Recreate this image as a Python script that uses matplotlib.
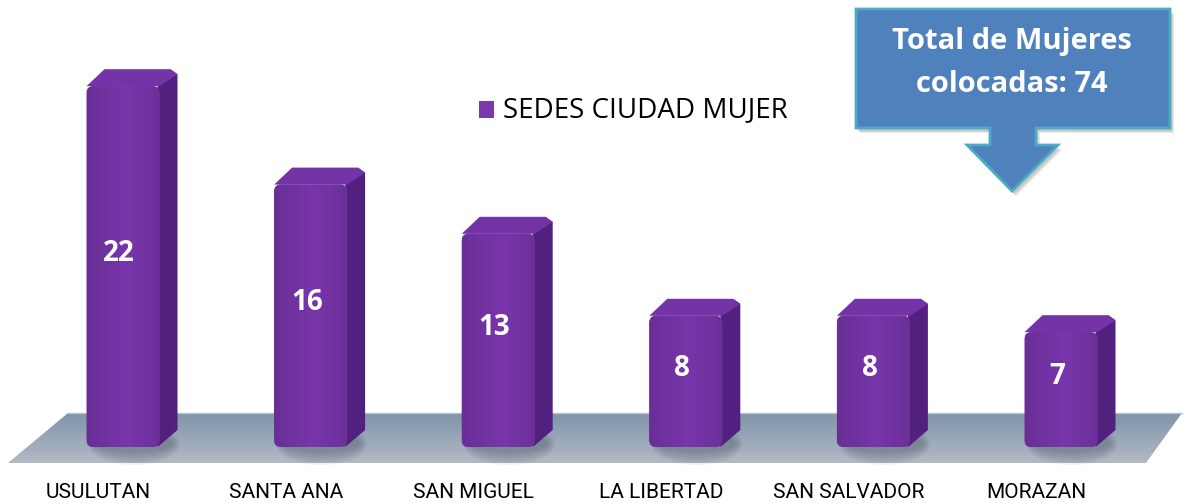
import numpy as np
import matplotlib
matplotlib.use("Agg")
import matplotlib.pyplot as plt
from matplotlib.patches import Polygon, Rectangle, Ellipse, FancyBboxPatch
from matplotlib.transforms import Affine2D

# data
sedes = ["USULUTAN", "SANTA ANA", "SAN MIGUEL", "LA LIBERTAD", "SAN SALVADOR", "MORAZAN"]
colocadas = [22, 16, 13, 8, 8, 7]
serie = "SEDES CIUDAD MUJER"
total_txt = "Total de Mujeres\ncolocadas: 74"

W, H = 1186, 504
fig = plt.figure(figsize=(W / 100, H / 100), dpi=100)
ax = fig.add_axes([0, 0, 1, 1])
ax.set_axis_off()

# axis scales so that bars land where the picture has them
x0, step = 123.0, 187.6     # px of first bar centre, px between bars
base, unit = 447.0, 16.4    # px of value 0 (from top), px per unit
xlim = (-x0 / step, (W - x0) / step)
ylim = (-(H - base) / unit, base / unit)

# pixel transform (origin top left) for decorations
px = Affine2D().scale(1 / W, -1 / H).translate(0, 1) + fig.transFigure

# floor with vertical gradient
floor = Polygon([(68, 413), (1182, 413), (1146, 463), (8, 463)], closed=True,
                facecolor="none", edgecolor="none", transform=px, zorder=0)
ax.add_patch(floor)
grad = np.linspace(0, 1, 64)[:, None]
c_top = np.array([0.50, 0.58, 0.67])
c_bot = np.array([0.70, 0.73, 0.77])
img = c_top[None, None, :] * (1 - grad[..., None]) + c_bot[None, None, :] * grad[..., None]
img = np.repeat(img, 2, axis=1)
im = ax.imshow(img, extent=(0, W, 463, 413), transform=px, aspect="auto",
               interpolation="bilinear", zorder=0)
im.set_clip_path(floor)
ax.plot([68, 1182], [413, 413], color="#b9c3cf", lw=1.0, transform=px, zorder=1)

# horizontal shading for bar fronts
t = np.linspace(0, 1, 32)
shade = 1 - 0.12 * np.abs(t - 0.55) / 0.55
c_front = np.array([0.47, 0.21, 0.67])
front_img = (c_front[None, :] * shade[:, None])[None, :, :]

# bars
xs = np.arange(len(sedes))
bw = 73 / step
dx = 18 / step
dy = 17 / unit
asp = step / unit
ax.bar(xs, colocadas, width=bw, color="none", zorder=3)
for x, v in zip(xs, colocadas):
    r = x + bw / 2
    l = x - bw / 2
    # soft shadow on floor
    for k in range(6):
        ax.add_patch(Ellipse((x + dx * 0.6, 0.2), bw * (1.25 - 0.04 * k), 2.6 - 0.3 * k,
                             facecolor="#3e4a5c", edgecolor="none", alpha=0.07, zorder=2))
    side = Polygon([(r - 0.01, 0), (r + dx, dy), (r + dx, v + dy * 0.7), (r + dx * 0.6, v + dy),
                    (r - 0.01, v)],
                   facecolor="#52207e", edgecolor="none", zorder=3)
    top = Polygon([(l, v), (l + dx, v + dy), (r + dx * 0.6, v + dy), (r + dx, v + dy * 0.7), (r, v)],
                  facecolor="#7433a6", edgecolor="none", zorder=3)
    ax.add_patch(side)
    ax.add_patch(top)
    front = FancyBboxPatch((l, 0), bw, v, boxstyle="round,pad=0,rounding_size=%f" % (7 / step),
                           mutation_aspect=asp, facecolor="#7030a0", edgecolor="none", zorder=4)
    ax.add_patch(front)
    fim = ax.imshow(front_img, extent=(l, r, 0, v), aspect="auto", interpolation="bilinear",
                    zorder=4.1)
    fim.set_clip_path(front)
    ax.text(x - 0.02, v / 2 + 0.8, str(v), color="white", fontsize=20, fontweight="bold",
            family=["Open Sans", "DejaVu Sans"], ha="center", va="center", zorder=5)

ax.set_xlim(*xlim)
ax.set_ylim(*ylim)

# category labels
for x, name in zip(xs, sedes):
    ax.text(x - 0.13, -2.75, name, fontsize=15, family=["Roboto", "DejaVu Sans"],
            ha="center", va="center", color="black")

# legend
ax.add_patch(Rectangle((479, 101), 15, 17, facecolor="#7a3aac", edgecolor="none",
                       transform=px, zorder=4))
ax.text(503, 110, serie, fontsize=20, family=["Open Sans", "DejaVu Sans"],
        ha="left", va="center", color="black", transform=px)

# callout with arrow
call = [(856, 9), (1170, 9), (1170, 128), (1036, 128), (1036, 145), (1058, 145),
        (1012, 191), (967, 145), (990, 145), (990, 128), (856, 128)]
for k, a in enumerate([0.25, 0.25, 0.2]):
    ax.add_patch(Polygon([(x + 2 + k, y + 3 + k) for x, y in call], closed=True,
                         facecolor="#999999", edgecolor="none", alpha=a, transform=px, zorder=6))
box = Polygon(call, closed=True, facecolor="#4f81bd", edgecolor="#4bacc6", lw=2,
              transform=px, zorder=7)
ax.add_patch(box)
ax.text(1012, 42, total_txt.split("\n")[0], color="white", fontsize=21, fontweight="bold",
        family=["Open Sans", "DejaVu Sans"], ha="center", va="center", transform=px, zorder=8)
ax.text(1012, 85, total_txt.split("\n")[1], color="white", fontsize=21, fontweight="bold",
        family=["Open Sans", "DejaVu Sans"], ha="center", va="center", transform=px, zorder=8)

fig.savefig("out.png", dpi=100)
